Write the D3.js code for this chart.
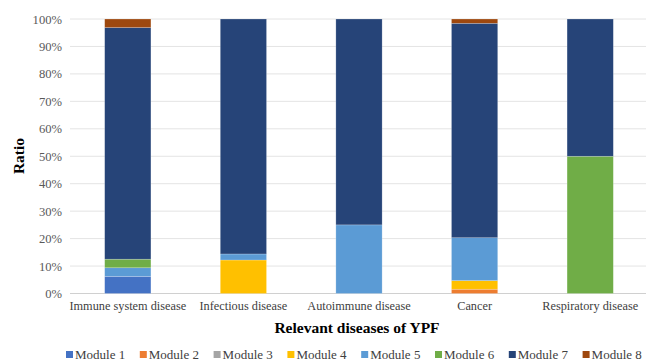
<!DOCTYPE html>
<html><head><meta charset="utf-8">
<script src="https://cdn.jsdelivr.net/npm/d3@7"></script>
<style>body{margin:0;background:#fff;} svg{display:block;} svg text{font-family:"Liberation Serif","Times New Roman","DejaVu Serif",serif !important;}</style>
</head><body>
<svg id="c" width="646" height="364"></svg>
<script>
const categories = ["Immune system disease","Infectious disease","Autoimmune disease","Cancer","Respiratory disease"];
const seriesNames = ["Module 1","Module 2","Module 3","Module 4","Module 5","Module 6","Module 7","Module 8"];
const module1 = [6.25, 0, 0, 0, 0];
const module2 = [0, 0, 0, 1.56, 0];
const module3 = [0, 0, 0, 0, 0];
const module4 = [0, 12.2, 0, 3.13, 0];
const module5 = [3.125, 2.2, 25, 15.63, 0];
const module6 = [3.125, 0, 0, 0, 50];
const module7 = [84.375, 85.6, 75, 78.12, 50];
const module8 = [3.125, 0, 0, 1.56, 0];
const colors = ["#4472C4","#ED7D31","#A5A5A5","#FFC000","#5B9BD5","#70AD47","#264478","#9E480E"];
const yTicks = [0,10,20,30,40,50,60,70,80,90,100];

const seriesValues = [module1,module2,module3,module4,module5,module6,module7,module8];
const rows = categories.map((c,i)=>{const r={cat:c}; seriesNames.forEach((s,j)=>r[s]=seriesValues[j][i]); return r;});
const stack = d3.stack().keys(seriesNames)(rows);

const svg = d3.select("#c");
const x = d3.scaleBand().domain(categories).range([70, 648]).paddingInner(0.6).paddingOuter(0.3);
const y = d3.scaleLinear().domain([0,100]).range([293.5, 19]);

svg.append("g").selectAll("line").data(yTicks).join("line")
  .attr("x1",70).attr("x2",646).attr("y1",d=>y(d)).attr("y2",d=>y(d))
  .attr("stroke",d=>d===0?"#d0d0d0":"#e4e4e4").attr("stroke-width",1);

const yAxis = d3.axisLeft(y).tickValues(yTicks).tickFormat(d=>d+"%").tickSize(0).tickPadding(0);
const ya = svg.append("g").attr("transform","translate(62,0)").call(yAxis);
ya.select(".domain").remove();
ya.selectAll("text").attr("font-size",12.6).attr("fill","#595959");

svg.append("g").selectAll("g").data(stack).join("g").attr("fill",(d,i)=>colors[i])
  .selectAll("rect").data(d=>d).join("rect")
  .attr("x",d=>x(d.data.cat)).attr("width",x.bandwidth())
  .attr("y",d=>y(d[1])).attr("height",d=>Math.max(0,y(d[0])-y(d[1])))
  .attr("stroke","#ffffff").attr("stroke-opacity",0.35).attr("stroke-width",0.6);

const xAxis = d3.axisBottom(x).tickSize(0).tickPadding(0);
const xa = svg.append("g").attr("transform","translate(0,301)").call(xAxis);
xa.select(".domain").remove();
xa.selectAll("text").attr("font-size",12.3).attr("fill","#404040");

svg.append("text").attr("x",357).attr("y",333).attr("text-anchor","middle")
  .attr("font-weight","bold").attr("font-size",15.5).attr("fill","#000").text("Relevant diseases of YPF");
svg.append("text").attr("transform","translate(24,156) rotate(-90)").attr("text-anchor","middle")
  .attr("font-weight","bold").attr("font-size",15.5).attr("fill","#000").text("Ratio");

const lg = svg.append("g").attr("transform","translate(66,359)");
const itemW = 73.8;
seriesNames.forEach((s,i)=>{
  const g = lg.append("g").attr("transform",`translate(${i*itemW},0)`);
  g.append("rect").attr("x",0).attr("y",-8).attr("width",7).attr("height",7).attr("fill",colors[i]);
  g.append("text").attr("x",9).attr("y",0).attr("font-size",13).attr("fill","#404040").text(s);
});
</script>
</body></html>
